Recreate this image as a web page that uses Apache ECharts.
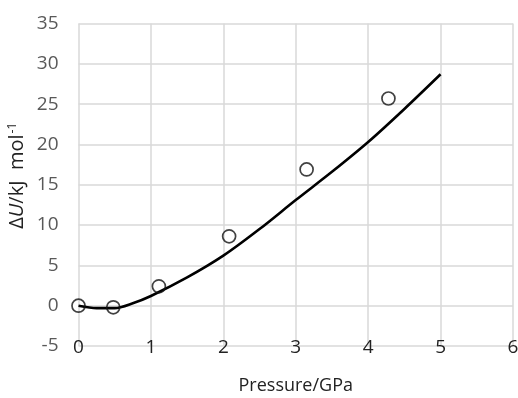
<!DOCTYPE html>
<html><head><meta charset="utf-8">
<script src="https://cdn.jsdelivr.net/npm/echarts@6/dist/echarts.min.js"></script>
<style>html,body{margin:0;padding:0;background:#fff}#c{width:518px;height:398px}</style>
</head><body><div id="c"></div>
<script>
// Measured points (Pressure/GPa, ΔU/kJ mol-1)
const expX = [0, 0.48, 1.11, 2.08, 3.15, 4.28];
const expY = [0, -0.2, 2.4, 8.6, 16.9, 25.7];
// Fitted curve samples
const fitX = [0, 0.25, 0.5, 0.75, 1, 1.5, 2, 2.5, 3, 3.5, 4, 4.5, 5];
const fitY = [0, -0.3, -0.3, 0.3, 1.2, 3.5, 6.2, 9.5, 13.1, 16.6, 20.3, 24.4, 28.7];
const xTicks = [0, 1, 2, 3, 4, 5, 6];
const yTicks = [-5, 0, 5, 10, 15, 20, 25, 30, 35];

const chart = echarts.init(document.getElementById('c'), null, {renderer: 'canvas'});
chart.setOption({
  animation: false,
  backgroundColor: '#fff',
  grid: {left: 78.5, right: 5, top: 23.5, bottom: 52, containLabel: false, outerBoundsMode: 'none'},
  xAxis: {
    type: 'value', min: xTicks[0], max: xTicks[xTicks.length - 1], interval: 1,
    name: 'Pressure/GPa', nameLocation: 'middle', nameGap: 31, nameMoveOverlap: false,
    nameTextStyle: {fontFamily: 'Open Sans', fontSize: 18, color: '#222'},
    axisLine: {show: false}, axisTick: {show: false},
    splitLine: {show: true, lineStyle: {color: '#d9d9d9', width: 1.5}},
    axisLabel: {margin: -8, fontFamily: 'Open Sans', fontSize: 19, color: '#222'}
  },
  yAxis: {
    type: 'value', min: yTicks[0], max: yTicks[yTicks.length - 1], interval: 5,
    name: '{d|Δ}{u|U}{d|/kJ  mol}{s|-1}', nameLocation: 'middle', nameGap: 50, nameRotate: 90,
    nameMoveOverlap: false,
    nameTextStyle: {
      padding: [0, 0, 0, 18],
      rich: {
        d: {fontFamily: 'Open Sans', fontSize: 20, color: '#222'},
        u: {fontFamily: 'Open Sans', fontSize: 20, color: '#222', fontStyle: 'italic'},
        s: {fontFamily: 'Open Sans', fontSize: 12, color: '#222', verticalAlign: 'top', padding: [0, 0, 10, 1]}
      }
    },
    axisLine: {show: false}, axisTick: {show: false},
    splitLine: {show: true, lineStyle: {color: '#d9d9d9', width: 1.5}},
    axisLabel: {margin: 20, fontFamily: 'Open Sans', fontSize: 19, color: '#595959'}
  },
  series: [
    {
      type: 'line', data: fitX.map((x, i) => [x, fitY[i]]), smooth: 0.3, showSymbol: false,
      lineStyle: {color: '#000', width: 2.6}, z: 2
    },
    {
      type: 'scatter', data: expX.map((x, i) => [x, expY[i]]), symbol: 'circle', symbolSize: 13,
      itemStyle: {color: 'rgba(255,255,255,0)', borderColor: '#111', borderWidth: 1.7}, z: 3
    }
  ]
});
</script></body></html>
